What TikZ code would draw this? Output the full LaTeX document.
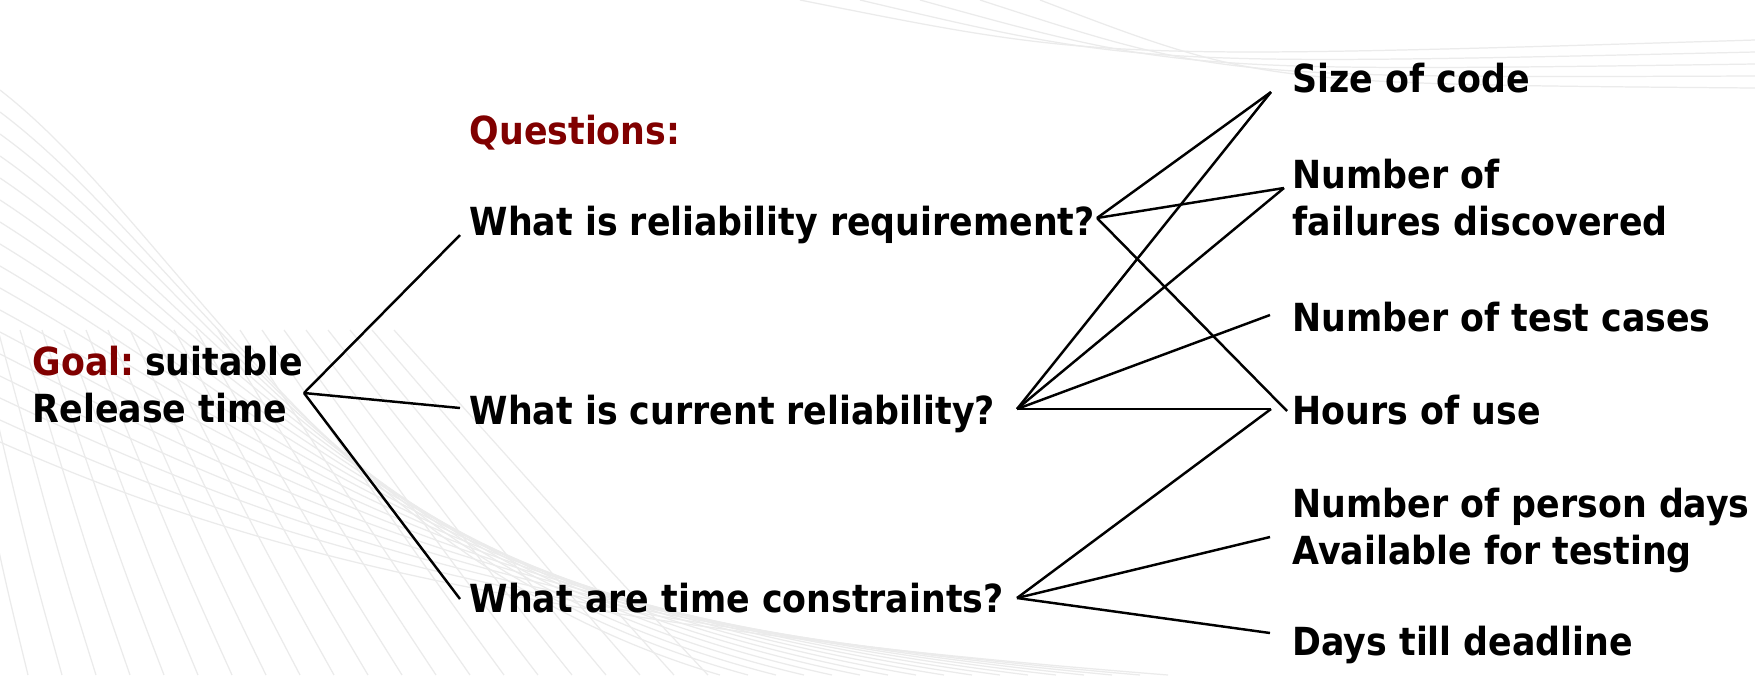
\documentclass[tikz,border=0pt]{standalone}
\usepackage{fontspec}
\setmainfont{DejaVu Sans Condensed}
\definecolor{goalred}{RGB}{128,0,0}
\begin{document}
\begin{tikzpicture}[x=0.01cm,y=-0.01cm,
  txt/.style={anchor=base west,inner sep=0pt,font=\fontsize{11}{13.4}\selectfont\bfseries},
  conn/.style={line width=0.7pt,black},
  meshline/.style={line width=0.35pt,black!8}]
\useasboundingbox (0,0) rectangle (1755,675);
\fill[white] (0,0) rectangle (1755,675);
% faint background mesh
\begin{scope}
\clip (0,0) rectangle (1755,675);
\foreach \i in {0,...,16}{
  \draw[meshline] (0,{90+\i*22}) .. controls ({180+\i*4},{230+\i*20}) and ({330+\i*12},{560+\i*4}) .. ({720+\i*28},675);
}
\foreach \i in {0,...,22}{
  \draw[meshline] ({\i*34-40},675) .. controls ({\i*30-60},{560}) .. ({\i*22-90},{330});
}
\foreach \i in {0,...,4}{
  \draw[meshline] ({800+\i*60},0) .. controls ({1100+\i*40},{60+\i*6}) .. (1755,{40+\i*12});
}
\end{scope}
% texts
\node[txt,text=goalred] (questions) at (469,144) {Questions:};
\node[txt] (req) at (469,235) {What is reliability requirement?};
\node[txt] (cur) at (469,424) {What is current reliability?};
\node[txt] (tim) at (469,612) {What are time constraints?};
\node[txt] (goalA) at (32,375) {\textcolor{goalred}{Goal:}\hspace{3pt}suitable};
\node[txt] (goalB) at (32,422) {Release time};
\node[txt] (size) at (1292,92) {Size of code};
\node[txt] (numA) at (1292,188) {Number of};
\node[txt] (numB) at (1292,235) {failures discovered};
\node[txt] (test) at (1292,331) {Number of test cases};
\node[txt] (hours) at (1292,424) {Hours of use};
\node[txt] (persA) at (1292,517) {Number of person days};
\node[txt] (persB) at (1292,564) {Available for testing};
\node[txt] (days) at (1292,655) {Days till deadline};
% connector points
\coordinate (G) at (304,393);
\coordinate (rIn) at (460,235);
\coordinate (cIn) at (460,408);
\coordinate (tIn) at (460,599);
\coordinate (R) at (1097,218);
\coordinate (C) at (1017,409);
\coordinate (T) at (1017,598);
\coordinate (eSize) at (1271,92);
\coordinate (eNum) at (1284,188);
\coordinate (eTest) at (1270,315);
\coordinate (eHours) at (1271,409);
\coordinate (eHoursR) at (1287,411);
\coordinate (ePers) at (1270,537);
\coordinate (eDays) at (1270,633);
% connectors
\draw[conn] (G) -- (rIn);
\draw[conn] (G) -- (cIn);
\draw[conn] (G) -- (tIn);
\draw[conn] (R) -- (eSize);
\draw[conn] (R) -- (eNum);
\draw[conn] (R) -- (eHoursR);
\draw[conn] (C) -- (eSize);
\draw[conn] (C) -- (eNum);
\draw[conn] (C) -- (eTest);
\draw[conn] (C) -- (eHours);
\draw[conn] (T) -- (eHours);
\draw[conn] (T) -- (ePers);
\draw[conn] (T) -- (eDays);
\end{tikzpicture}
\end{document}
